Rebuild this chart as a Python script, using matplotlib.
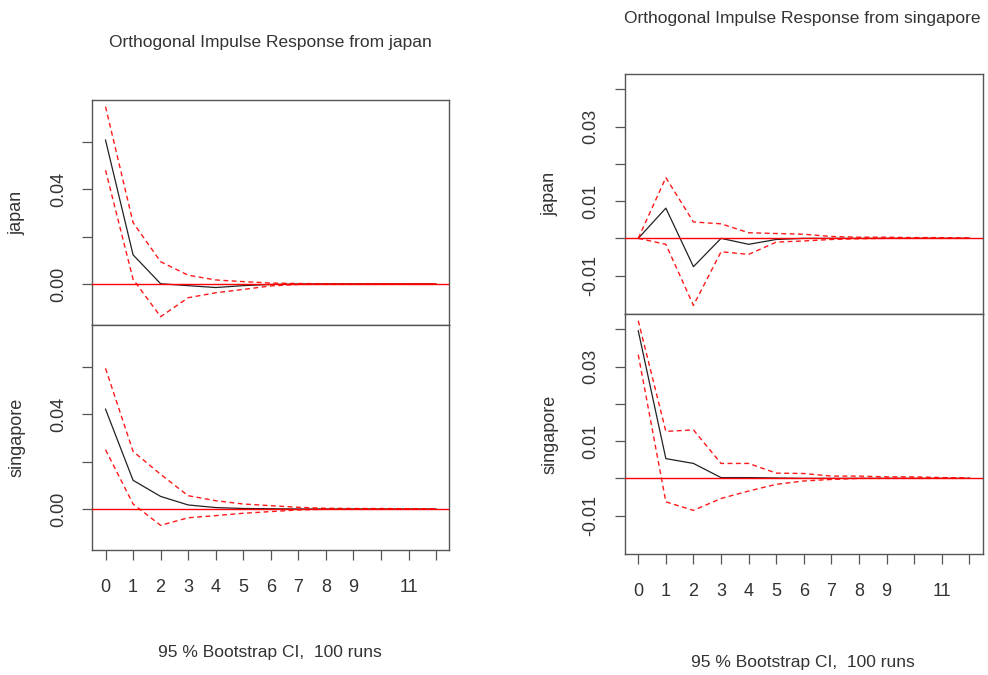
import matplotlib
matplotlib.use("Agg")
import matplotlib.pyplot as plt

plt.rcParams['font.family'] = ['Liberation Sans', 'DejaVu Sans']

steps = list(range(13))
x_tick_labels = ["0", "1", "2", "3", "4", "5", "6", "7", "8", "9", "", "11", ""]

# Shock from japan
jp_to_jp = [0.0607, 0.0123, 0.0001, -0.0007, -0.0015, -0.0007, -0.0002, 0.0, 0.0, 0.0, 0.0, 0.0, 0.0]
jp_to_jp_upper = [0.0748, 0.0259, 0.0094, 0.0037, 0.0017, 0.0010, 0.0004, 0.0002, 0.0001, 0.0001, 0.0001, 0.0001, 0.0]
jp_to_jp_lower = [0.0480, 0.0020, -0.0138, -0.0058, -0.0037, -0.0023, -0.0008, -0.0002, -0.0001, -0.0001, 0.0, 0.0, 0.0]

jp_to_sg = [0.0421, 0.0121, 0.0053, 0.0017, 0.0006, 0.0002, 0.0001, 0.0, 0.0, 0.0, 0.0, 0.0, 0.0]
jp_to_sg_upper = [0.0593, 0.0243, 0.0146, 0.0056, 0.0035, 0.0021, 0.0014, 0.0007, 0.0003, 0.0002, 0.0002, 0.0001, 0.0]
jp_to_sg_lower = [0.0250, 0.0021, -0.0069, -0.0037, -0.0028, -0.0018, -0.0011, -0.0004, -0.0001, 0.0, 0.0, 0.0, 0.0]

# Shock from singapore
sg_to_jp = [0.0, 0.0081, -0.0076, 0.0, -0.0016, -0.0003, 0.0, 0.0, 0.0, 0.0, 0.0, 0.0, 0.0]
sg_to_jp_upper = [0.0, 0.0163, 0.0044, 0.0039, 0.0015, 0.0013, 0.0011, 0.0005, 0.0003, 0.0003, 0.0002, 0.0002, 0.0001]
sg_to_jp_lower = [0.0, -0.0016, -0.0180, -0.0036, -0.0043, -0.0010, -0.0007, -0.0003, -0.0001, 0.0, 0.0, 0.0, 0.0]

sg_to_sg = [0.0396, 0.0053, 0.0040, 0.0002, 0.0002, 0.0001, 0.0, 0.0, 0.0, 0.0, 0.0, 0.0, 0.0]
sg_to_sg_upper = [0.0423, 0.0126, 0.0130, 0.0040, 0.0040, 0.0014, 0.0013, 0.0006, 0.0006, 0.0004, 0.0004, 0.0002, 0.0001]
sg_to_sg_lower = [0.0332, -0.0063, -0.0086, -0.0054, -0.0034, -0.0016, -0.0007, -0.0003, 0.0, 0.0, 0.0, 0.0, 0.0]

left_yticks = [0.0, 0.02, 0.04, 0.06]
left_yticklabels = ["0.00", "", "0.04", ""]
right_yticks = [-0.01, 0.0, 0.01, 0.02, 0.03, 0.04]
right_yticklabels = ["-0.01", "", "0.01", "", "0.03", ""]

W, H = 988, 675
fig = plt.figure(figsize=(W / 100, H / 100), dpi=100)

TXT = '#333333'
SP = '#555555'
FS = 13
FS_T = 12.5

def panel(rect, irf, up, lo, ylim, yt, ytl, show_x):
    ax = fig.add_axes(rect)
    ax.plot(steps, irf, color='#222222', lw=0.9, zorder=2)
    ax.axhline(0, color='red', lw=1.0, zorder=3)
    for c in (up, lo):
        ax.plot(steps, c, color='red', lw=1.0, dashes=(3.5, 2.5), zorder=4, alpha=0.9)
    ax.set_xlim(-0.48, 12.48)
    ax.set_ylim(*ylim)
    ax.set_yticks(yt)
    ax.set_yticklabels(ytl, rotation=90, va='center')
    ax.set_xticks(steps)
    if show_x:
        ax.set_xticklabels(x_tick_labels)
    else:
        ax.tick_params(axis='x', bottom=False, labelbottom=False)
    ax.tick_params(axis='both', direction='out', length=7.2, width=0.9,
                   color=SP, labelcolor=TXT, labelsize=FS)
    ax.tick_params(axis='y', pad=11)
    ax.tick_params(axis='x', pad=14)
    for s in ax.spines.values():
        s.set_color(SP)
        s.set_linewidth(1.0)
    return ax

def fx(px):
    return px / W

def fy(py):
    return 1 - py / H

# Left column (impulse from japan)
lx0, lx1 = 92.3, 449.3
panel([fx(lx0), fy(325), fx(lx1 - lx0), 225 / H], jp_to_jp, jp_to_jp_upper, jp_to_jp_lower,
      (-0.0173, 0.0776), left_yticks, left_yticklabels, False)
panel([fx(lx0), fy(550), fx(lx1 - lx0), 225 / H], jp_to_sg, jp_to_sg_upper, jp_to_sg_lower,
      (-0.0173, 0.0776), left_yticks, left_yticklabels, True)

# Right column (impulse from singapore)
rx0, rx1 = 625.0, 982.7
panel([fx(rx0), fy(314), fx(rx1 - rx0), 240 / H], sg_to_jp, sg_to_jp_upper, sg_to_jp_lower,
      (-0.0203, 0.0441), right_yticks, right_yticklabels, False)
panel([fx(rx0), fy(554), fx(rx1 - rx0), 240 / H], sg_to_sg, sg_to_sg_upper, sg_to_sg_lower,
      (-0.0203, 0.0441), right_yticks, right_yticklabels, True)

fig.text(fx(270), fy(43), "Orthogonal Impulse Response from japan", ha='center', va='center',
         fontsize=FS_T, color=TXT)
fig.text(fx(802), fy(18), "Orthogonal Impulse Response from singapore", ha='center', va='center',
         fontsize=FS_T, color=TXT)
fig.text(fx(270), fy(652), "95 % Bootstrap CI,  100 runs", ha='center', va='center',
         fontsize=FS_T, color=TXT)
fig.text(fx(803), fy(662), "95 % Bootstrap CI,  100 runs", ha='center', va='center',
         fontsize=FS_T, color=TXT)

for xx, yy, t in [(17, 212.5, "japan"), (17, 437.5, "singapore"),
                  (550, 194, "japan"), (550, 434, "singapore")]:
    fig.text(fx(xx), fy(yy), t, rotation=90, ha='center', va='center', fontsize=FS, color=TXT)

fig.savefig("out.png", dpi=100)
